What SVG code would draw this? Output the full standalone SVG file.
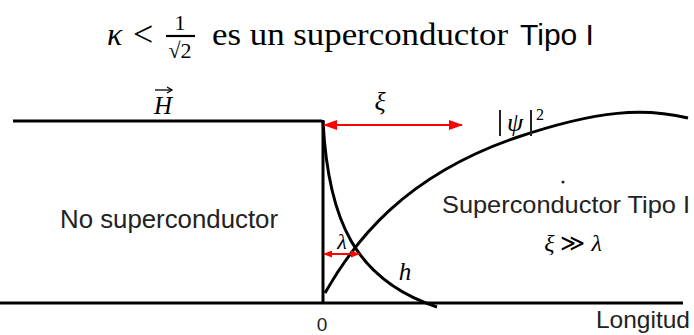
<svg xmlns="http://www.w3.org/2000/svg" width="694" height="335" viewBox="0 0 694 335">
  <style>
    .ln { fill: none; stroke: #000; stroke-width: 3; }
    .red { fill: none; stroke: #ff0000; stroke-width: 2; }
    .serif { font-family: "Liberation Serif", "DejaVu Serif", serif; fill: #000; }
    .math { font-family: "Liberation Serif", "DejaVu Serif", serif; font-style: italic; fill: #000; }
    .sans { font-family: "Liberation Sans", Arial, sans-serif; fill: #222; }
  </style>
  <defs>
    <marker id="ah" markerWidth="14" markerHeight="10" refX="13" refY="5" orient="auto-start-reverse" markerUnits="userSpaceOnUse">
      <path d="M0,0 L14,5 L0,10 Z" fill="#ff0000"/>
    </marker>
    <marker id="ahs" markerWidth="9" markerHeight="7" refX="8" refY="3.5" orient="auto-start-reverse" markerUnits="userSpaceOnUse">
      <path d="M0,0 L9,3.5 L0,7 Z" fill="#ff0000"/>
    </marker>
  </defs>

  <g id="title">
    <text class="math" x="107" y="45" font-size="32">κ</text>
    <text class="serif" x="133" y="46" font-size="36">&lt;</text>
    <text class="serif" x="180" y="30" font-size="22" text-anchor="middle">1</text>
    <line x1="166" y1="36" x2="195" y2="36" stroke="#000" stroke-width="2.2"/>
    <text class="serif" x="180" y="58" font-size="22" text-anchor="middle">√2</text>
    <text class="serif" x="212" y="45" font-size="31" textLength="296" lengthAdjust="spacingAndGlyphs">es un superconductor</text>
    <text class="sans" x="520" y="45" font-size="30" style="fill:#000">Tipo I</text>
  </g>

  <g id="axes">
    <path class="ln" d="M13,121 L322,121"/>
    <path class="ln" d="M323,120 L323,304"/>
    <path class="ln" d="M0,303 L683,303"/>
  </g>

  <g id="curves">
    <path id="h-curve" class="ln" d="M323,121 C328,220 355,280 437,307"/>
    <path id="psi-curve" class="ln" d="M325,293 C355,240 405,176 515,138 C600,109 645,108 688,118"/>
  </g>

  <g id="connectors">
    <line class="red" x1="324" y1="125" x2="462" y2="125" marker-start="url(#ah)" marker-end="url(#ah)"/>
    <line class="red" x1="324" y1="254" x2="359" y2="254" marker-start="url(#ahs)" marker-end="url(#ahs)"/>
  </g>

  <g id="labels">
    <text class="math" x="163" y="114" font-size="25" text-anchor="middle">H</text>
    <path d="M155,90 L171,90" stroke="#000" stroke-width="1.3" fill="none"/>
    <path d="M167,87 L172,90 L167,93" stroke="#000" stroke-width="1.3" fill="none"/>
    <text class="math" x="380" y="110" font-size="26" text-anchor="middle">ξ</text>
    <g id="psi-label">
      <line x1="500" y1="110" x2="500" y2="136" stroke="#222" stroke-width="2"/>
      <text class="math" x="515" y="131" font-size="26" text-anchor="middle">ψ</text>
      <line x1="531" y1="110" x2="531" y2="136" stroke="#222" stroke-width="2"/>
      <text class="serif" x="536" y="120" font-size="16">2</text>
    </g>
    <text class="math" x="342" y="249" font-size="22" text-anchor="middle">λ</text>
    <text class="math" x="405" y="280" font-size="25" text-anchor="middle">h</text>
    <circle cx="563" cy="182" r="1.5" fill="#222"/>
    <text class="sans" x="60" y="228" font-size="25" textLength="218" lengthAdjust="spacingAndGlyphs">No superconductor</text>
    <text class="sans" x="442" y="213" font-size="24" textLength="248" lengthAdjust="spacingAndGlyphs">Superconductor Tipo I</text>
    <text class="serif" x="573" y="251" font-size="24" text-anchor="middle"><tspan font-style="italic">ξ</tspan> ≫ <tspan font-style="italic">λ</tspan></text>
    <text class="sans" x="322" y="331" font-size="19" text-anchor="middle">0</text>
    <text class="sans" x="596" y="328" font-size="24" textLength="94" lengthAdjust="spacingAndGlyphs">Longitud</text>
  </g>
</svg>
